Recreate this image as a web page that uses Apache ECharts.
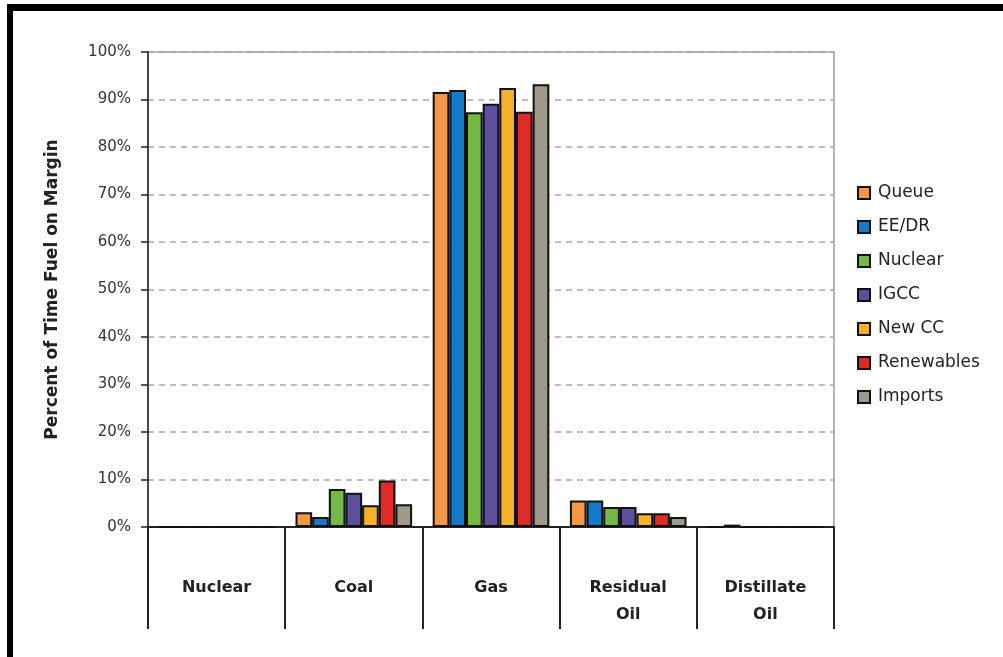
<!DOCTYPE html>
<html>
<head>
<meta charset="utf-8">
<script src="https://cdn.jsdelivr.net/npm/echarts@6/dist/echarts.min.js"></script>
<style>
  html, body { margin: 0; padding: 0; background: #fff; }
  #chart { width: 1003px; height: 657px; }
</style>
</head>
<body>
<div id="chart"></div>
<script>
// categories along x
const categories = ['Nuclear', 'Coal', 'Gas', 'Residual\nOil', 'Distillate\nOil']
// percent of time each fuel is on the margin, per case
const queue      = [0, 3.1, 91.6, 5.6, 0]
const eeDr       = [0, 2.1, 92.0, 5.6, 0.5]
const nuclear    = [0, 8.0, 87.3, 4.2, 0]
const igcc       = [0, 7.2, 89.1, 4.2, 0]
const newCC      = [0, 4.6, 92.4, 2.9, 0]
const renewables = [0, 9.8, 87.4, 2.9, 0]
const imports    = [0, 4.8, 93.2, 2.1, 0]

const seriesNames = ['Queue', 'EE/DR', 'Nuclear', 'IGCC', 'New CC', 'Renewables', 'Imports']
const seriesData = [queue, eeDr, nuclear, igcc, newCC, renewables, imports]
const colors = ['#F29846', '#1479C6', '#74B944', '#5C4F9E', '#F5B12A', '#DF2A28', '#A0988A']

const font = 'DejaVu Sans, Verdana, sans-serif'

let myChart = echarts.init(document.getElementById('chart'))

let option = {
    animation: false,
    color: colors,
    textStyle: { fontFamily: font },
    graphic: [
        // outer frame (left and top edges only)
        { type: 'rect', shape: { x: 7, y: 4, width: 6, height: 660 }, style: { fill: '#000' } },
        { type: 'rect', shape: { x: 7, y: 4, width: 1000, height: 7 }, style: { fill: '#000' } }
    ],
    grid: {
        left: 148,
        right: 169,
        top: 52,
        bottom: 130,
        show: true,
        borderColor: '#9a9a9a',
        borderWidth: 1.5
    },
    legend: {
        orient: 'vertical',
        left: 852,
        top: 178,
        itemWidth: 12,
        itemHeight: 12,
        itemGap: 14,
        icon: 'rect',
        textStyle: { fontSize: 17, lineHeight: 20, color: '#222', fontFamily: font, padding: [0, 0, 0, 3] },
        data: seriesNames
    },
    xAxis: {
        type: 'category',
        data: categories,
        axisLine: { lineStyle: { color: '#222', width: 2 } },
        axisTick: { show: true, length: 102, lineStyle: { color: '#222', width: 2 } },
        axisLabel: {
            margin: 47,
            fontSize: 16,
            fontWeight: 'bold',
            color: '#222',
            lineHeight: 27,
            fontFamily: font
        }
    },
    yAxis: {
        type: 'value',
        min: 0,
        max: 100,
        interval: 10,
        name: 'Percent of Time Fuel on Margin',
        nameLocation: 'middle',
        nameGap: 87,
        nameTextStyle: { fontSize: 17, fontWeight: 'bold', color: '#222', fontFamily: font },
        axisLine: { show: true, lineStyle: { color: '#222', width: 1.5 } },
        axisTick: { show: true, length: 7, lineStyle: { color: '#222', width: 1.5 } },
        axisLabel: {
            formatter: '{value}%',
            fontSize: 15,
            color: '#333',
            margin: 17,
            fontFamily: font
        },
        splitLine: { lineStyle: { color: '#a8a8a8', width: 1.5, type: [6, 5] } }
    },
    series: []
}

for (let i = 0; i < seriesNames.length; i++) {
    option.series.push({
        name: seriesNames[i],
        type: 'bar',
        data: seriesData[i],
        barGap: '0%',
        barCategoryGap: '15%',
        itemStyle: { borderColor: '#111', borderWidth: 2 }
    })
}

option && myChart.setOption(option)
</script>
</body>
</html>
